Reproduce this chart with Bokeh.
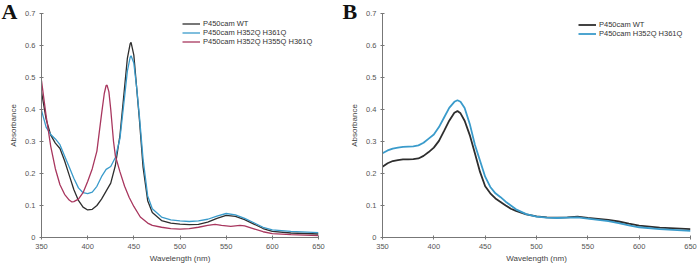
from bokeh.plotting import figure
from bokeh.models import Range1d, FixedTicker, CustomJSTickFormatter, Legend, LegendItem
from bokeh.layouts import row
from bokeh.embed import file_html
from bokeh.resources import INLINE

# ---------------- Data ----------------
x_ticks = [350, 400, 450, 500, 550, 600, 650]
y_ticks = [0, 0.1, 0.2, 0.3, 0.4, 0.5, 0.6, 0.7]

# Panel A
wl_a = [350, 355, 360, 365, 370, 375, 380, 385, 390, 395, 400, 405, 410, 415, 420, 425,
        430, 435, 440, 443, 446, 447, 450, 453, 456, 460, 465, 470, 480, 490, 500, 510,
        520, 530, 540, 550, 560, 570, 580, 590, 600, 620, 650]
a_wt = [0.455, 0.37, 0.32, 0.295, 0.278, 0.24, 0.195, 0.15, 0.116, 0.095, 0.086, 0.088,
        0.1, 0.12, 0.145, 0.17, 0.225, 0.32, 0.47, 0.56, 0.605, 0.61, 0.57, 0.47, 0.37,
        0.22, 0.115, 0.078, 0.053, 0.045, 0.042, 0.040, 0.041, 0.048, 0.060, 0.069, 0.066,
        0.056, 0.042, 0.028, 0.019, 0.014, 0.011]
a_dm = [0.397, 0.345, 0.322, 0.308, 0.29, 0.255, 0.22, 0.185, 0.155, 0.14, 0.137, 0.142,
        0.16, 0.19, 0.213, 0.222, 0.25, 0.31, 0.44, 0.52, 0.563, 0.568, 0.545, 0.47, 0.38,
        0.245, 0.13, 0.09, 0.064, 0.055, 0.052, 0.050, 0.052, 0.057, 0.067, 0.075, 0.071,
        0.060, 0.046, 0.032, 0.024, 0.019, 0.015]
wl_a_tm = [350, 355, 360, 365, 370, 375, 380, 383, 385, 390, 395, 400, 405, 410, 415, 418,
           420, 421, 423, 425, 428, 430, 435, 440, 445, 450, 457, 465, 470, 480, 490, 500,
           510, 520, 530, 538, 545, 555, 565, 570, 580, 590, 600, 620, 650]
a_tm = [0.49, 0.38, 0.285, 0.215, 0.165, 0.135, 0.117, 0.111, 0.112, 0.12, 0.14, 0.175,
        0.215, 0.27, 0.385, 0.45, 0.475, 0.476, 0.455, 0.40, 0.30, 0.255, 0.205, 0.16,
        0.125, 0.097, 0.064, 0.045, 0.038, 0.032, 0.028, 0.026, 0.028, 0.032, 0.038,
        0.041, 0.038, 0.035, 0.038, 0.036, 0.027, 0.018, 0.012, 0.009, 0.006]

# Panel B
wl_b = [350, 355, 360, 365, 370, 375, 380, 385, 390, 395, 400, 405, 410, 415, 420, 423,
        426, 430, 435, 440, 445, 450, 455, 460, 465, 470, 475, 480, 490, 500, 510, 520,
        530, 540, 550, 560, 570, 580, 590, 600, 620, 650]
b_wt = [0.221, 0.232, 0.239, 0.242, 0.244, 0.244, 0.245, 0.247, 0.255, 0.267, 0.281,
        0.302, 0.333, 0.365, 0.39, 0.395, 0.388, 0.365, 0.32, 0.263, 0.205, 0.16, 0.138,
        0.122, 0.111, 0.1, 0.09, 0.083, 0.072, 0.066, 0.063, 0.062, 0.063, 0.065, 0.061,
        0.058, 0.055, 0.050, 0.043, 0.037, 0.031, 0.026]
b_dm = [0.263, 0.272, 0.278, 0.281, 0.283, 0.284, 0.285, 0.288, 0.296, 0.309, 0.322,
        0.345, 0.375, 0.405, 0.424, 0.429, 0.424, 0.405, 0.355, 0.29, 0.24, 0.19, 0.158,
        0.138, 0.126, 0.112, 0.1, 0.088, 0.073, 0.065, 0.062, 0.061, 0.062, 0.063, 0.059,
        0.055, 0.051, 0.045, 0.038, 0.032, 0.026, 0.021]

labels_a = ["P450cam WT", "P450cam H352Q H361Q", "P450cam H352Q H355Q H361Q"]
labels_b = ["P450cam WT", "P450cam H352Q H361Q"]
panel_letters = ["A", "B"]

C_BLACK = "#2e2e2e"
C_BLUE = "#3a9bcb"
C_RED = "#a8365e"
FONT = "Liberation Sans"


def style(p, letter):
    p.x_range = Range1d(350, 650)
    p.y_range = Range1d(0, 0.7)
    p.xgrid.visible = False
    p.ygrid.visible = False
    p.outline_line_color = None
    p.background_fill_color = "white"
    p.border_fill_color = "white"
    p.xaxis.ticker = FixedTicker(ticks=x_ticks)
    p.yaxis.ticker = FixedTicker(ticks=y_ticks)
    p.yaxis.formatter = CustomJSTickFormatter(
        code="return tick == 0 ? '0' : tick.toFixed(1);")
    for ax in (p.xaxis[0], p.yaxis[0]):
        ax.axis_line_color = "#777777"
        ax.axis_line_width = 1
        ax.major_tick_line_color = "#777777"
        ax.major_tick_in = 2
        ax.major_tick_out = 2
        ax.minor_tick_in = 0
        ax.minor_tick_out = 0
        ax.major_label_text_font = FONT
        ax.major_label_text_font_size = "7.5px"
        ax.major_label_text_color = "#555555"
        ax.axis_label_text_font = FONT
        ax.axis_label_text_font_size = "8px"
        ax.axis_label_text_font_style = "normal"
        ax.axis_label_text_color = "#444444"
    p.xaxis.major_label_standoff = 4
    p.xaxis.axis_label_standoff = 2
    p.yaxis.major_label_standoff = 4
    p.yaxis.axis_label_standoff = 4
    p.xaxis.axis_label = "Wavelength (nm)"
    p.yaxis.axis_label = "Absorbance"
    # panel letter as a title living in the border area (not clipped)
    p.title.text = letter
    p.title.align = "left"
    p.title.vertical_align = "bottom"
    p.title.offset = -40
    p.title.standoff = -20
    p.title.text_font = "Liberation Serif"
    p.title.text_font_size = "22px"
    p.title.text_font_style = "bold"
    p.title.text_color = "#111111"


def make_legend(items, loc):
    lg = Legend(items=items, location=loc)
    lg.background_fill_alpha = 0
    lg.border_line_color = None
    lg.padding = 0
    lg.margin = 0
    lg.spacing = 0
    lg.label_height = 9
    lg.glyph_height = 9
    lg.glyph_width = 18
    lg.label_standoff = 3
    lg.label_text_font = FONT
    lg.label_text_font_size = "7.5px"
    lg.label_text_color = "#333333"
    return lg


# ---------------- Panel A ----------------
pa = figure(width=340, height=265, output_backend="svg", toolbar_location=None,
            min_border_left=41, min_border_right=22, min_border_top=13, min_border_bottom=28)
style(pa, panel_letters[0])
ra1 = pa.line(wl_a, a_wt, line_color=C_BLACK, line_width=1.3)
ra2 = pa.line(wl_a, a_dm, line_color=C_BLUE, line_width=1.3)
ra3 = pa.line(wl_a_tm, a_tm, line_color=C_RED, line_width=1.3)
pa.add_layout(make_legend([LegendItem(label=labels_a[0], renderers=[ra1]),
                           LegendItem(label=labels_a[1], renderers=[ra2]),
                           LegendItem(label=labels_a[2], renderers=[ra3])], (141, 191)))

# ---------------- Panel B ----------------
pb = figure(width=357, height=265, output_backend="svg", toolbar_location=None,
            min_border_left=42, min_border_right=7, min_border_top=12, min_border_bottom=28)
style(pb, panel_letters[1])
rb1 = pb.line(wl_b, b_wt, line_color=C_BLACK, line_width=1.8)
rb2 = pb.line(wl_b, b_dm, line_color=C_BLUE, line_width=1.8)
pb.add_layout(make_legend([LegendItem(label=labels_b[0], renderers=[rb1]),
                           LegendItem(label=labels_b[1], renderers=[rb2])], (196, 199)))

layout = row(pa, pb)
open("out.html", "w").write(file_html(layout, INLINE))
